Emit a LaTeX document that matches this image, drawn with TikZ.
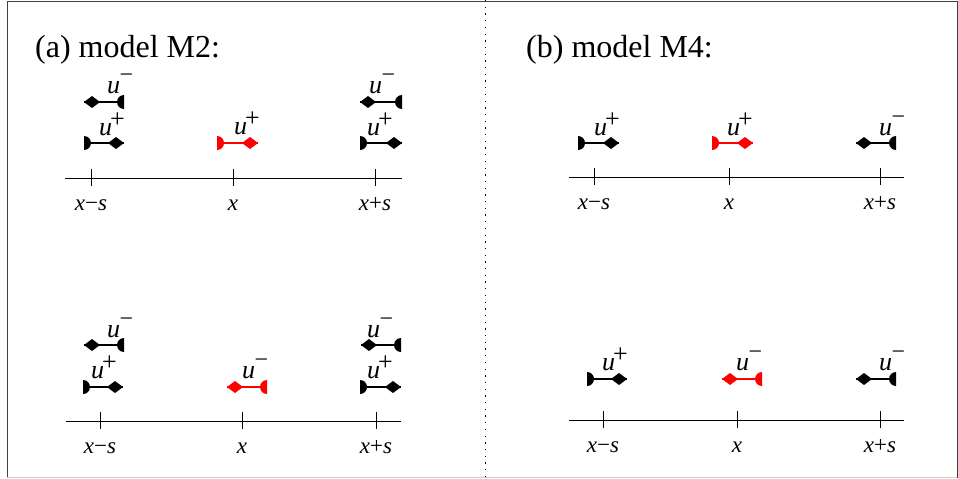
\documentclass[tikz,border=0pt]{standalone}
\usepackage{fontspec}
\setmainfont{Liberation Serif}
\newcommand\labP{\textit{u}\kern-2pt\raisebox{8pt}{\fontsize{26}{26}\selectfont +}}
\newcommand\labM{\textit{u}\kern-0.5pt\raisebox{11pt}{\fontsize{24}{24}\selectfont −}}
% plus-type: flat (half disc) at left #2, diamond tip at right #3
\newcommand\arrP[5]{%
  \coordinate (#1f) at (#2,#4); \coordinate (#1t) at (#3,#4);
  \draw[#5,line width=1.4pt] (#1f) -- (#1t);
  \fill[#5] (#1t) -- ++(-8pt,6pt) -- ++(-8pt,-6pt) -- ++(8pt,-6pt) -- cycle;
  \fill[#5] (#1f) ++(0pt,7pt) arc[start angle=90,end angle=-90,radius=7pt] -- cycle;}
% minus-type: diamond tip at left #2, flat (half disc) at right #3
\newcommand\arrM[5]{%
  \coordinate (#1t) at (#2,#4); \coordinate (#1f) at (#3,#4);
  \draw[#5,line width=1.4pt] (#1t) -- (#1f);
  \fill[#5] (#1t) -- ++(8pt,6pt) -- ++(8pt,-6pt) -- ++(-8pt,-6pt) -- cycle;
  \fill[#5] (#1f) ++(0pt,7pt) arc[start angle=90,end angle=270,radius=7pt] -- cycle;}
% axis: name, xl, xr, y, t1, t2, t3
\newcommand\axisline[7]{%
  \coordinate (#1l) at (#2,#4); \coordinate (#1r) at (#3,#4);
  \draw[line width=0.8pt] (#1l) -- (#1r);
  \foreach \tx/\tn/\tl in {#5/a/\textit{x}−\textit{s},#6/b/\textit{x},#7/c/\textit{x}+\textit{s}}{
    \coordinate (#1\tn) at (\tx,#4);
    \draw[line width=0.6pt] ([yshift=9pt]#1\tn) -- ([yshift=-8pt]#1\tn);
    \node[axlab] (#1\tn lab) at ([yshift=-32pt]#1\tn) {\tl};
  }}
\tikzset{
  axlab/.style={anchor=base,inner sep=0pt,font=\fontsize{23}{23}\selectfont},
  ulab/.style={anchor=base west,inner sep=0pt,font=\fontsize{26}{26}\selectfont},
  title/.style={anchor=base west,inner sep=0pt,font=\fontsize{32}{32}\selectfont},
}
\begin{document}
\begin{tikzpicture}[x=1pt,y=-1pt]
\useasboundingbox (0,0) rectangle (958,479);
% frame
\draw[black!75,line width=1pt] (7,478) -- (7,1) -- (957,1) -- (957,478);
\draw[black!20,line width=1pt] (7,477.5) -- (957,477.5);
\coordinate (dtop) at (485,0); \coordinate (dbot) at (485,479);
\draw[line width=0.7pt,dash pattern=on 1.3pt off 5.4pt] (dtop) -- (dbot);
% titles
\node[title] (ta) at (35,57) {(a) model M2:};
\node[title] (tb) at (526,57) {(b) model M4:};
% panel a top
\axisline{A}{65}{402}{178}{91}{233}{375}
\arrM{a1u}{84}{124}{102}{black}
\node[ulab] (la1u) at (107,93) {\labM};
\arrP{a1l}{84}{124}{143}{black}
\node[ulab] (la1l) at (99,135) {\labP};
\arrP{a2}{217}{258}{143}{red}
\node[ulab] (la2) at (234,134) {\labP};
\arrM{a3u}{360}{402}{102}{black}
\node[ulab] (la3u) at (369,93) {\labM};
\arrP{a3l}{360}{402}{143}{black}
\node[ulab] (la3l) at (367,135) {\labP};
% panel b top
\axisline{B}{569}{904}{177}{594}{729}{880}
\arrP{b1}{578}{619}{143}{black}
\node[ulab] (lb1) at (594,135) {\labP};
\arrP{b2}{712}{753}{143}{red}
\node[ulab] (lb2) at (727,135) {\labP};
\arrM{b3}{856}{896}{143}{black}
\node[ulab] (lb3) at (879,135) {\labM};
% panel a bottom
\axisline{C}{66}{401}{421}{100}{242}{376}
\arrM{c1u}{84}{124}{345}{black}
\node[ulab] (lc1u) at (107,337) {\labM};
\arrP{c1l}{83}{123}{387}{black}
\node[ulab] (lc1l) at (91,378) {\labP};
\arrM{c2}{227}{267}{387}{red}
\node[ulab] (lc2) at (242,378) {\labM};
\arrM{c3u}{361}{401}{345}{black}
\node[ulab] (lc3u) at (367,337) {\labM};
\arrP{c3l}{360}{401}{387}{black}
\node[ulab] (lc3l) at (367,378) {\labP};
% panel b bottom
\axisline{D}{569}{904}{420}{603}{737}{880}
\arrP{d1}{587}{627}{379}{black}
\node[ulab] (ld1) at (602,370) {\labP};
\arrM{d2}{722}{762}{379}{red}
\node[ulab] (ld2) at (736,370) {\labM};
\arrM{d3}{856}{896}{379}{black}
\node[ulab] (ld3) at (879,370) {\labM};
\end{tikzpicture}
\end{document}
